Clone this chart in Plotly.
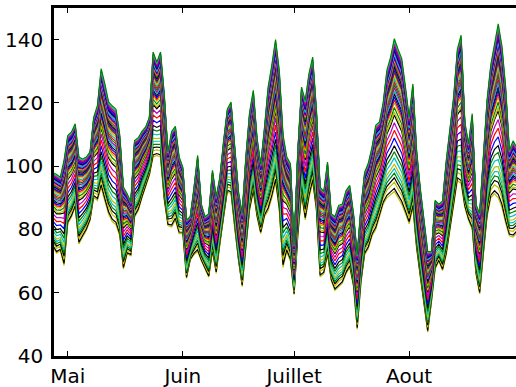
import plotly.graph_objects as go
import pandas as pd

# Daily dates (27 April -> 30 August)
dates = pd.date_range("2013-04-27", periods=126, freq="D").strftime("%Y-%m-%d").tolist()

# Upper envelope of the ensemble
upper = [98, 97.4, 96.5, 101.8, 109.7, 110.8, 113.4, 102.9, 102.3, 102.9,
         104.5, 115.5, 119.2, 130.8, 126, 120.3, 119, 118, 110, 93.4,
         91.3, 88.6, 108.1, 109, 111, 112.4, 115.5, 136.1, 132.9, 136.1,
         122.9, 104.5, 111, 112.6, 103, 99.7, 83, 84, 93, 103.4,
         88, 84, 85, 98.7, 90.3, 96.6, 108, 118, 120.3, 105,
         92, 85, 103, 117, 124, 109, 100.6, 112, 125, 132,
         140, 130.3, 110, 103, 100.8, 75, 105, 125, 120.8, 129.3,
         134.5, 118, 93.4, 92, 101.3, 85, 84, 87.6, 88, 92.3,
         93.9, 85, 72, 87, 98, 101, 106, 112.9, 114, 120,
         130.3, 134.5, 140.3, 137, 134, 125, 115.5, 126, 105, 93,
         82, 73, 73, 89.2, 88, 89, 101.8, 112, 122, 137,
         141.4, 114, 107, 116.6, 88, 85, 103, 121, 132, 138,
         145, 138, 125, 105, 108, 106]

# Lower envelope of the ensemble
lower = [74.4, 72.5, 73.3, 68.6, 81.8, 83.9, 87, 75.4, 77.6, 79.7,
         82.8, 90.2, 89.2, 93.4, 89, 84.9, 82.5, 81.5, 78, 67.5,
         72.3, 71.7, 83.9, 86, 90, 93.4, 97.1, 102.9, 103.4, 102.9,
         89.2, 81.2, 80.8, 83, 78.7, 78.7, 64.5, 70.3, 72, 73,
         70, 67.5, 64.9, 73, 66.1, 75.5, 84, 91.9, 91.3, 80,
         70, 61.9, 75, 86, 91.9, 84, 78.7, 84, 86, 90,
         95, 86, 68, 73, 70, 59.4, 78, 91, 83, 90,
         95, 86, 65, 66, 72, 63.8, 60.7, 62, 63, 66,
         68, 62, 48.5, 63, 72, 74, 78, 80, 84, 88,
         90, 91, 92, 90, 88, 85, 81.8, 87, 74, 65,
         57, 47.5, 57, 67.5, 70, 67, 72, 80, 88, 95.5,
         94.5, 87, 82.9, 80, 66, 59.6, 72, 84, 90, 91.3,
         90, 87, 82, 78, 77.6, 79]

# Relative position of each ensemble member inside the envelope (0 = lowest, 1 = highest)
member_pos = [0.62, 1.00, 0.95, 0.985, 0.92, 0.00, 0.02,
              0.88, 0.55, 0.78, 0.90, 0.85, 0.06, 0.30,
              0.80, 0.70, 0.60, 0.74, 0.965, 0.18, 0.82,
              0.935, 0.12, 0.87, 0.66, 0.45, 0.76, 0.50,
              0.35, 0.835, 0.975, 0.22, 0.895, 0.58, 0.09,
              0.945, 0.26, 0.72, 0.91, 0.68, 0.86, 0.64,
              0.955, 0.79, 0.40, 0.15, 0.81, 0.52, 0.925]

colors = ["#0000ff", "#008000", "#ff0000", "#00bfbf", "#bf00bf", "#bfbf00", "#000000"]

tick_dates = ["2013-05-01", "2013-06-01", "2013-07-01", "2013-08-01"]
tick_text = ["Mai", "Juin", "Juillet", "Aout"]
y_ticks = [40, 60, 80, 100, 120, 140]

fig = go.Figure()
# draw lower members first so that the highest member ends up on top
order = sorted(range(len(member_pos)), key=lambda k: member_pos[k])
for i in order:
    f = member_pos[i]
    ys = [lo + f * (hi - lo) for lo, hi in zip(lower, upper)]
    fig.add_trace(go.Scatter(x=dates, y=ys, mode="lines",
                             line=dict(color=colors[i % 7], width=1.2),
                             showlegend=False, hoverinfo="skip"))

font = dict(family="DejaVu Sans", size=20, color="black")
fig.update_layout(
    width=516, height=387,
    margin=dict(l=54, r=0, t=8, b=31),
    paper_bgcolor="white", plot_bgcolor="white",
    font=font,
    xaxis=dict(range=["2013-04-27 07:00", "2013-08-29 19:00"],
               tickvals=tick_dates, ticktext=tick_text,
               ticks="inside", ticklen=5, tickwidth=1, tickcolor="black",
               showline=True, linewidth=2.5, linecolor="black", mirror="ticks",
               showgrid=False, zeroline=False, tickfont=font),
    yaxis=dict(range=[40, 150], tickvals=y_ticks,
               ticks="inside", ticklen=5, tickwidth=1, tickcolor="black",
               showline=True, linewidth=2.5, linecolor="black", mirror=False,
               showgrid=False, zeroline=False, tickfont=font,
               ticklabelstandoff=4),
    yaxis2=dict(range=[40, 150], tickvals=y_ticks, overlaying="y", side="right",
                ticks="inside", ticklen=5, tickwidth=1, tickcolor="black",
                showticklabels=False, showline=False, showgrid=False, zeroline=False),
)
fig.write_html("out.html")
